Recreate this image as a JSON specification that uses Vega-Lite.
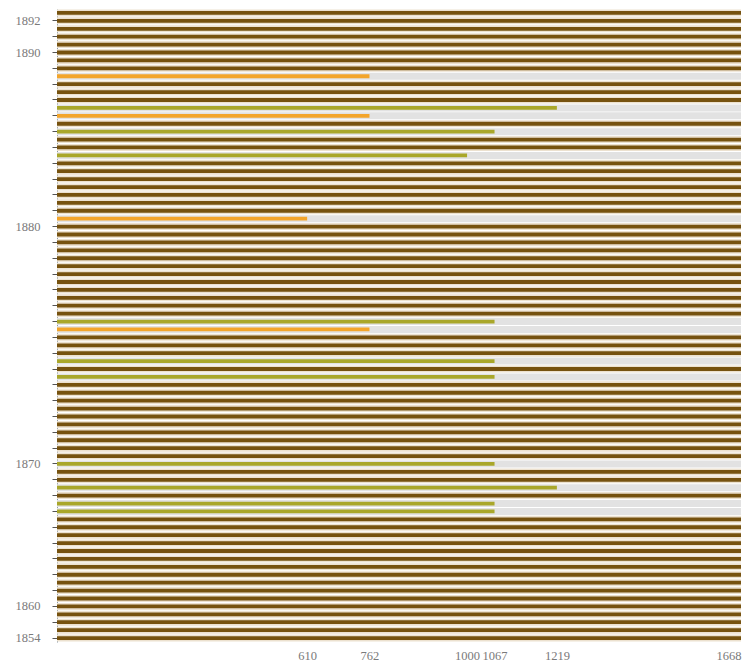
{
  "$schema": "https://vega.github.io/schema/vega-lite/v6.json",
  "width": 684,
  "height": 633,
  "autosize": {"type": "none"},
  "padding": {"left": 57, "top": 9, "right": 15, "bottom": 21},
  "background": "white",
  "config": {"view": {"stroke": null}, "axis": {"labelFont": "Liberation Serif", "grid": false}},
  "data": {"values": [
    {"r": 1, "g": 1668}, {"r": 2, "g": 1668}, {"r": 3, "g": 1668}, {"r": 4, "g": 1668}, {"r": 5, "g": 1668},
    {"r": 6, "g": 1668}, {"r": 7, "g": 1668}, {"r": 8, "g": 1668}, {"r": 9, "g": 762}, {"r": 10, "g": 1668},
    {"r": 11, "g": 1668}, {"r": 12, "g": 1668}, {"r": 13, "g": 1219}, {"r": 14, "g": 762}, {"r": 15, "g": 1668},
    {"r": 16, "g": 1067}, {"r": 17, "g": 1668}, {"r": 18, "g": 1668}, {"r": 19, "g": 1000}, {"r": 20, "g": 1668},
    {"r": 21, "g": 1668}, {"r": 22, "g": 1668}, {"r": 23, "g": 1668}, {"r": 24, "g": 1668}, {"r": 25, "g": 1668},
    {"r": 26, "g": 1668}, {"r": 27, "g": 610}, {"r": 28, "g": 1668}, {"r": 29, "g": 1668}, {"r": 30, "g": 1668},
    {"r": 31, "g": 1668}, {"r": 32, "g": 1668}, {"r": 33, "g": 1668}, {"r": 34, "g": 1668}, {"r": 35, "g": 1668},
    {"r": 36, "g": 1668}, {"r": 37, "g": 1668}, {"r": 38, "g": 1668}, {"r": 39, "g": 1668}, {"r": 40, "g": 1067},
    {"r": 41, "g": 762}, {"r": 42, "g": 1668}, {"r": 43, "g": 1668}, {"r": 44, "g": 1668}, {"r": 45, "g": 1067},
    {"r": 46, "g": 1668}, {"r": 47, "g": 1067}, {"r": 48, "g": 1668}, {"r": 49, "g": 1668}, {"r": 50, "g": 1668},
    {"r": 51, "g": 1668}, {"r": 52, "g": 1668}, {"r": 53, "g": 1668}, {"r": 54, "g": 1668}, {"r": 55, "g": 1668},
    {"r": 56, "g": 1668}, {"r": 57, "g": 1668}, {"r": 58, "g": 1067}, {"r": 59, "g": 1668}, {"r": 60, "g": 1668},
    {"r": 61, "g": 1219}, {"r": 62, "g": 1668}, {"r": 63, "g": 1067}, {"r": 64, "g": 1067}, {"r": 65, "g": 1668},
    {"r": 66, "g": 1668}, {"r": 67, "g": 1668}, {"r": 68, "g": 1668}, {"r": 69, "g": 1668}, {"r": 70, "g": 1668},
    {"r": 71, "g": 1668}, {"r": 72, "g": 1668}, {"r": 73, "g": 1668}, {"r": 74, "g": 1668}, {"r": 75, "g": 1668},
    {"r": 76, "g": 1668}, {"r": 77, "g": 1668}, {"r": 78, "g": 1668}, {"r": 79, "g": 1668}, {"r": 80, "g": 1668}
  ]},
  "encoding": {
    "y": {
      "field": "r", "type": "ordinal", "title": null,
      "scale": {"paddingInner": 0, "paddingOuter": 0},
      "axis": {
        "values": [2,4,6,8,10,12,14,16,18,20,22,24,26,28,30,32,34,36,38,40,42,44,46,48,50,52,54,56,58,60,62,64,66,68,70,72,74,76,78,80],
        "labelExpr": "datum.value == 2 ? '1892' : datum.value == 6 ? '1890' : datum.value == 28 ? '1880' : datum.value == 58 ? '1870' : datum.value == 76 ? '1860' : datum.value == 80 ? '1854' : ''",
        "tickSize": 5, "tickColor": "#555555", "domainColor": "#8a98a6",
        "labelColor": "#7a7a7a", "labelFontSize": 12.5, "labelPadding": 12, "labelAngle": 0
      }
    }
  },
  "layer": [
    {
      "mark": {"type": "bar", "size": 7},
      "encoding": {
        "x": {"datum": 1668, "type": "quantitative"},
        "color": {"condition": {"test": "datum.g == 1668", "value": "#ece1cf"}, "value": "#e2e2e2"}
      }
    },
    {
      "mark": {"type": "bar", "size": 3.8},
      "encoding": {
        "x": {
          "field": "g", "type": "quantitative", "title": null,
          "scale": {"domain": [0, 1668], "nice": false},
          "axis": {
            "values": [610, 762, 1000, 1067, 1219, 1668],
            "format": "d", "labelOverlap": false,
            "ticks": false, "domain": false, "labelColor": "#7a7a7a",
            "labelFontSize": 12.5, "labelPadding": 7
          }
        },
        "color": {
          "field": "g", "type": "nominal", "legend": null,
          "scale": {"domain": [1668, 1219, 1067, 1000, 762, 610],
                    "range": ["#76520f", "#a9a72a", "#a9a72a", "#a9a72a", "#f3a52b", "#f3a52b"]}
        }
      }
    }
  ]
}
